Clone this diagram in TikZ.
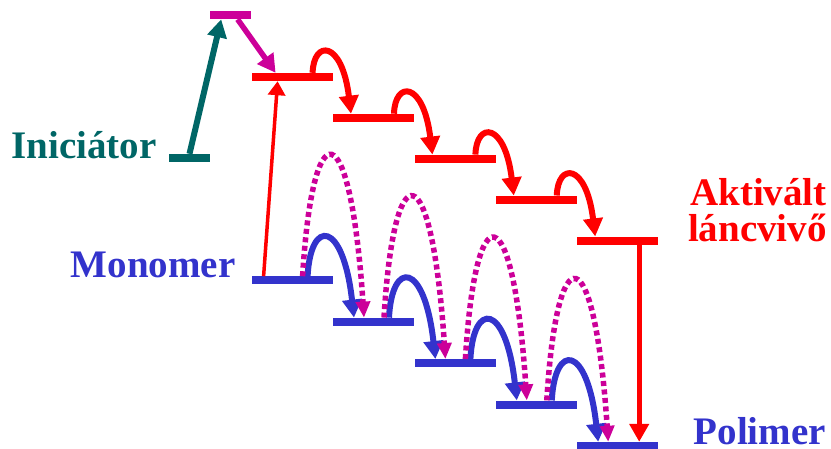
\documentclass[tikz,border=0pt]{standalone}
\usepackage{fontspec}
\setmainfont{Liberation Serif}
\usepackage{tikz}
\usetikzlibrary{arrows.meta,positioning}
\definecolor{iniTeal}{HTML}{006666}
\definecolor{exMagenta}{HTML}{CC0099}
\definecolor{chainRed}{HTML}{FF0000}
\definecolor{monoBlue}{HTML}{3333CC}
\tikzset{
    % energy levels
    energy/.style={rectangle,fill=#1,draw=none,inner sep=0pt,minimum width=81pt,minimum height=8pt},
    shortenergy/.style={energy=#1,minimum width=41pt},
    % labels
    tag/.style={font=\bfseries\fontsize{39}{37}\selectfont,text=#1,inner sep=0pt,text depth=0pt},
    % transitions
    push/.style={-{Triangle[length=18pt,width=19pt]},line width=6pt,#1},
    hop/.style={-{Triangle[length=18pt,width=19pt]},line width=6pt,#1},
    addhop/.style={-{Triangle[length=16pt,width=14pt]},line width=5.5pt,exMagenta,dash pattern=on 5pt off 3.5pt}
}

\begin{document}
\begin{tikzpicture}[x=1pt,y=-1pt]
  \useasboundingbox (0,0) rectangle (831,448);

  % Initiator levels
  \node[shortenergy=iniTeal] (ini) at (189.5,158) {};
  \node[shortenergy=exMagenta,above right=134.5pt and 0pt of ini] (ex) {};

  % Active chain carrier levels
  \node[energy=chainRed,below right=53.5pt and 0pt of ex] (r1) {};
  \node[energy=chainRed,below right=32.5pt and 0pt of r1] (r2) {};
  \node[energy=chainRed,below right=32.5pt and 0pt of r2] (r3) {};
  \node[energy=chainRed,below right=32.5pt and 0pt of r3] (r4) {};
  \node[energy=chainRed,below right=32.5pt and 0pt of r4] (r5) {};

  % Monomer levels
  \node[energy=monoBlue,below=195pt of r1] (m1) {};
  \node[energy=monoBlue,below right=33pt and 0pt of m1] (m2) {};
  \node[energy=monoBlue,below right=33pt and 0pt of m2] (m3) {};
  \node[energy=monoBlue,below right=33pt and 0pt of m3] (m4) {};
  \node[energy=monoBlue,below right=33pt and 0pt of m4] (m5) {};

  % Labels
  \node[tag=iniTeal,anchor=base east] (initxt) at ([xshift=-12pt]ini.west) {Iniciátor};
  \node[tag=monoBlue,anchor=base east] (monotxt) at ([xshift=-16pt,yshift=3pt]m1.west) {Monomer};
  \node[tag=monoBlue,anchor=base west] (poltxt) at ([xshift=35pt,yshift=1.5pt]m5.east) {Polimer};
  \node[tag=chainRed,anchor=base east] (acttxt) at (827,205) {Aktivált};
  \node[tag=chainRed,anchor=base east] (lanctxt) at (827,241.5) {láncvivő};

  % Initiation
  \draw[push=iniTeal] (ini.north) -- ([xshift=11pt]ex.south west);
  \draw[push=exMagenta,line width=5.5pt] ([xshift=-14pt]ex.south east) -- ([xshift=24pt]r1.north west);
  \draw[-{Triangle[length=14pt,width=17pt]},line width=3.5pt,chainRed] ([xshift=12pt]m1.north west) -- ([xshift=26pt]r1.south west);

  % Chain growth
  \draw[hop=chainRed] ([xshift=61pt]r1.north west) .. controls +(1pt,33pt) and +(-9pt,74pt) .. ([xshift=18pt]r2.north west);
  \draw[hop=chainRed] ([xshift=61pt]r2.north west) .. controls +(1pt,33pt) and +(-9pt,74pt) .. ([xshift=18pt]r3.north west);
  \draw[hop=chainRed] ([xshift=61pt]r3.north west) .. controls +(1pt,33pt) and +(-9pt,74pt) .. ([xshift=18pt]r4.north west);
  \draw[hop=chainRed] ([xshift=61pt]r4.north west) .. controls +(1pt,33pt) and +(-9pt,74pt) .. ([xshift=18pt]r5.north west);

  \draw[hop=monoBlue] ([xshift=56pt]m1.north west) .. controls +(3pt,58pt) and +(-11pt,98pt) .. ([xshift=21pt]m2.north west);
  \draw[hop=monoBlue] ([xshift=56pt]m2.north west) .. controls +(3pt,58pt) and +(-11pt,98pt) .. ([xshift=21pt]m3.north west);
  \draw[hop=monoBlue] ([xshift=56pt]m3.north west) .. controls +(3pt,58pt) and +(-11pt,98pt) .. ([xshift=21pt]m4.north west);
  \draw[hop=monoBlue] ([xshift=56pt]m4.north west) .. controls +(3pt,58pt) and +(-11pt,98pt) .. ([xshift=21pt]m5.north west);

  \draw[addhop] ([xshift=51pt]m1.north west) .. controls +(10pt,167pt) and +(-14pt,208pt) .. ([xshift=31pt]m2.north west);
  \draw[addhop] ([xshift=51pt]m2.north west) .. controls +(10pt,167pt) and +(-14pt,208pt) .. ([xshift=31pt]m3.north west);
  \draw[addhop] ([xshift=51pt]m3.north west) .. controls +(10pt,167pt) and +(-14pt,208pt) .. ([xshift=31pt]m4.north west);
  \draw[addhop] ([xshift=51pt]m4.north west) .. controls +(10pt,167pt) and +(-14pt,208pt) .. ([xshift=31pt]m5.north west);

  % Termination
  \draw[push=chainRed,line width=5pt] ([xshift=62pt]r5.south west) -- ([xshift=62pt]m5.north west);
\end{tikzpicture}
\end{document}
